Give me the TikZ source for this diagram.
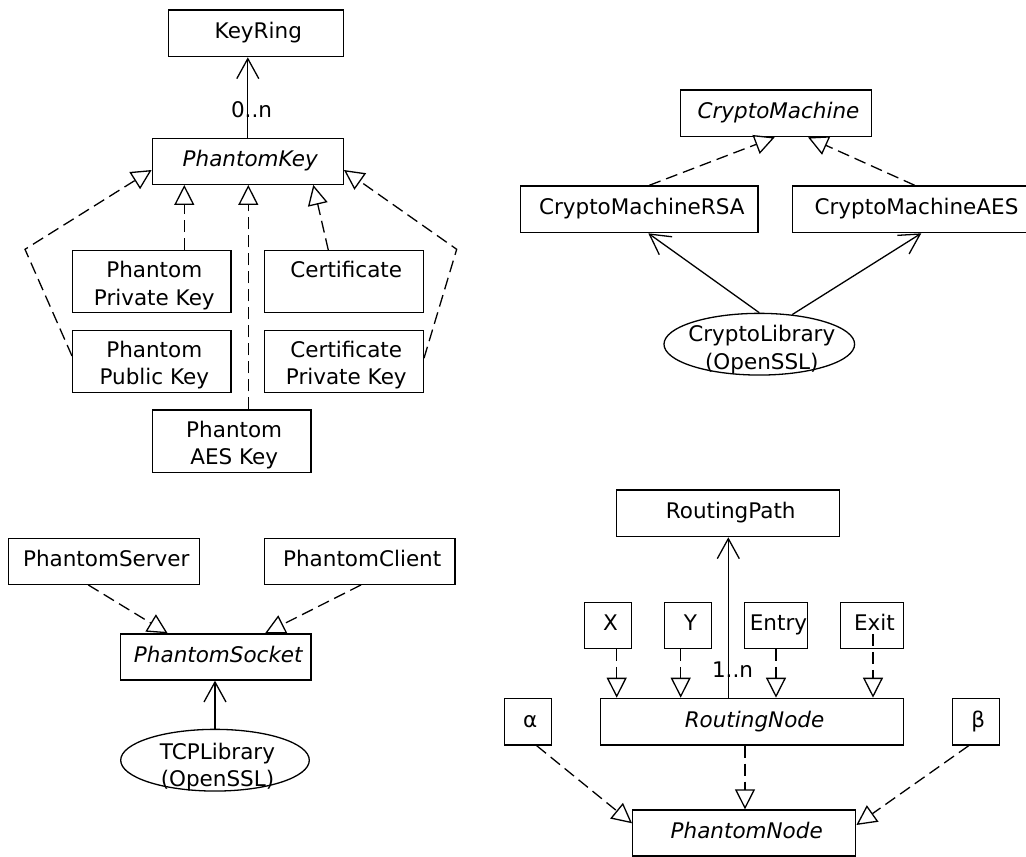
\documentclass[tikz,border=0pt]{standalone}
\usepackage{fontspec}
\setmainfont{DejaVu Sans}
\usetikzlibrary{arrows.meta,shapes.geometric}
\newcommand\diagfont{\fontsize{21.5}{27.3}\selectfont}
% two centred lines on a fixed baseline grid, lowered inside their box
\newcommand\twoline[3][-4.2pt]{\raisebox{#1}[\height][\depth]{\begin{tabular}{@{\hspace{5pt}}c@{}}#2\\#3\end{tabular}}}

\begin{document}
\begin{tikzpicture}[x=1pt,y=-1pt,
  line width=1.3pt,
  font=\diagfont,
  cls/.style={draw, rectangle, inner sep=0pt},
  single/.style={cls, text height=16.3pt, text depth=5.2pt,
    execute at begin node=\hspace*{5pt}},
  abstract/.style={single, font=\diagfont\itshape},
  multi/.style={cls},
  lib/.style={draw, ellipse, inner sep=0pt},
  libtext/.style={inner sep=0pt},
  mult/.style={inner sep=0pt, text height=15.7pt, text depth=0pt},
  realize/.style={dash pattern=on 12pt off 6pt,
    -{Triangle[length=20pt,width=20pt,fill=white]}},
  assoc/.style={-{Straight Barb[length=20pt,width=22pt]}}
]
\path[use as bounding box, fill=white] (0,0) rectangle (1026,857);
\clip (0,0) rectangle (1026,857);

% ---- keys ----
\node[single, minimum width=175pt, minimum height=46.7pt] (keyring) at (255.8,33.3) {KeyRing};
\node[abstract, minimum width=191pt, minimum height=46pt] (pkey) at (247.8,161.3) {PhantomKey};
\node[multi, minimum width=158.3pt, minimum height=62pt] (privkey) at (151.8,281.7) {\twoline{Phantom}{Private Key}};
\node[multi, minimum width=159pt, minimum height=62pt] (cert) at (343.8,281.7) {\twoline{Certificate}{\mbox{}}};
\node[multi, minimum width=158.3pt, minimum height=62.4pt] (pubkey) at (151.8,361.5) {\twoline{Phantom}{Public Key}};
\node[multi, minimum width=159pt, minimum height=62.4pt] (certpriv) at (343.8,361.5) {\twoline{Certificate}{Private Key}};
\node[multi, minimum width=158.7pt, minimum height=62.7pt] (aeskey) at (231.7,441.3) {\twoline{Phantom}{AES Key}};

\coordinate (pubbend) at (25,249.3);
\coordinate (certbend) at (456.7,249.3);

\draw[assoc] (pkey.north) -- (pkey.north |- keyring.south)
  node[mult, pos=0.35, xshift=3.7pt] {0..n};
\draw[realize] ([xshift=32.5pt]privkey.north) -- ([xshift=32.5pt]privkey.north |- pkey.south);
\draw[realize] ([xshift=16.6pt]aeskey.north) -- ([xshift=16.6pt]aeskey.north |- pkey.south);
\draw[realize] ([xshift=-15.5pt]cert.north) -- ([xshift=65.5pt]pkey.south);
\draw[realize] ([yshift=5.5pt]pubkey.west) -- (pubbend) -- ([yshift=-8.7pt]pkey.west);
\draw[realize] ([yshift=3.2pt]certpriv.east) -- (certbend) -- ([yshift=-8.7pt]pkey.east);

% ---- crypto machines ----
\node[abstract, minimum width=190.6pt, minimum height=46.7pt] (cm) at (776,113.3) {CryptoMachine};
\node[single, minimum width=237.3pt, minimum height=46.7pt] (rsa) at (639.3,209.3) {CryptoMachineRSA};
\node[single, minimum width=243.4pt, minimum height=46.7pt, execute at begin node={}] (aes) at (914,209.3) {CryptoMachineAES};
\node[lib, minimum width=190.6pt, minimum height=61.7pt] (cl) at (759.3,344.2) {};
\node[libtext] (cltext) at (cl.center) {\twoline[-5.7pt]{CryptoLibrary}{(OpenSSL)}};

\draw[realize] ([xshift=10pt]rsa.north) -- ([xshift=-1.3pt]cm.south);
\draw[realize] ([xshift=0.7pt]aes.north) -- ([xshift=32pt]cm.south);
\draw[assoc] (cl.north) -- ([xshift=9pt]rsa.south);
\draw[assoc] (cl.42) -- ([xshift=7.3pt]aes.south);

% ---- sockets ----
\node[single, minimum width=191pt, minimum height=46pt] (server) at (103.8,561.3) {PhantomServer};
\node[single, minimum width=190.7pt, minimum height=46pt] (client) at (359.7,561.3) {PhantomClient};
\node[abstract, minimum width=190.3pt, minimum height=46pt] (socket) at (215.8,657) {PhantomSocket};
\node[lib, minimum width=188.6pt, minimum height=61.7pt] (tcp) at (215,760.2) {};
\node[libtext] (tcptext) at (tcp.center) {\twoline[-7.2pt]{TCPLibrary}{(OpenSSL)}};

\draw[realize] ([xshift=-15.5pt]server.south) -- ([xshift=-48.1pt]socket.north);
\draw[realize] ([xshift=1.3pt]client.south) -- ([xshift=49.2pt]socket.north);
\draw[assoc] (tcp.north) -- (tcp.north |- socket.south);

% ---- routing ----
\node[single, minimum width=223pt, minimum height=46.7pt] (rp) at (728.2,513.3) {RoutingPath};
\node[single, minimum width=46.6pt, minimum height=46pt] (nx) at (608,625.3) {X};
\node[single, minimum width=46.6pt, minimum height=46pt] (ny) at (688,625.3) {Y};
\node[single, minimum width=62.6pt, minimum height=46pt] (entry) at (776,625.3) {Entry};
\node[single, minimum width=62.6pt, minimum height=46pt] (exit) at (872,625.3) {Exit};
\node[abstract, minimum width=302.6pt, minimum height=46.7pt] (rn) at (752,721.7) {RoutingNode};
\node[single, minimum width=47pt, minimum height=46.7pt] (alpha) at (527.8,721.7) {α};
\node[single, minimum width=47pt, minimum height=46.7pt] (beta) at (975.8,721.7) {β};
\node[abstract, minimum width=223pt, minimum height=46pt] (pn) at (744.2,833) {PhantomNode};

\draw[assoc] ([xshift=-23.7pt]rn.north) -- ([xshift=-23.7pt]rn.north |- rp.south)
  node[mult, pos=0.172, xshift=4.2pt] {1..n};
\draw[realize] ([xshift=8.7pt]nx.south) -- ([xshift=8.7pt]nx.south |- rn.north);
\draw[realize] ([xshift=-7.3pt]ny.south) -- ([xshift=-7.3pt]ny.south |- rn.north);
\draw[realize] (entry.south) -- (entry.south |- rn.north);
\draw[realize] ([xshift=1pt,yshift=15pt]exit.south) -- ([xshift=1pt]exit.south |- rn.north);
\draw[realize] ([xshift=-7pt]rn.south) -- ([xshift=-7pt]rn.south |- pn.north);
\draw[realize] ([xshift=8.9pt]alpha.south) -- ([yshift=9.7pt]pn.west);
\draw[realize] ([xshift=-7.1pt]beta.south) -- ([yshift=8pt]pn.east);
\end{tikzpicture}
\end{document}
